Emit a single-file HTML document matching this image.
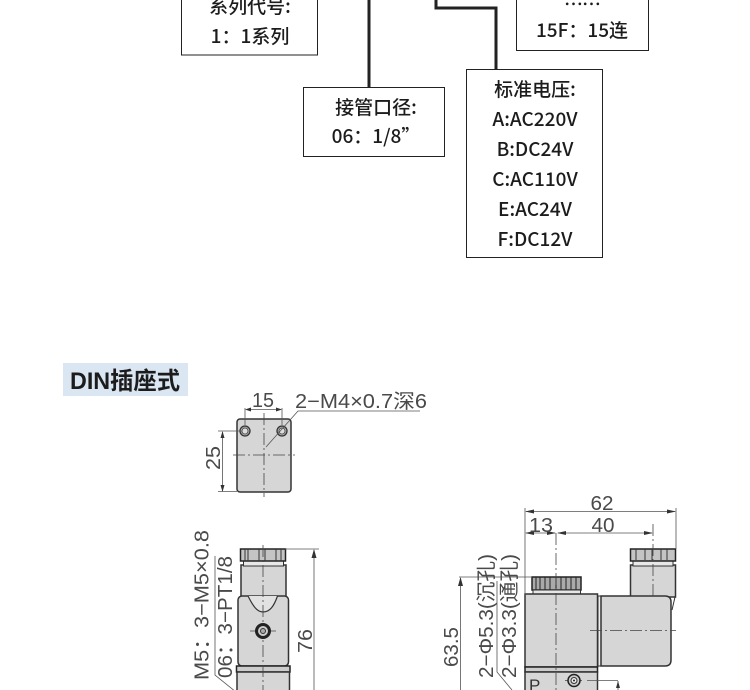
<!DOCTYPE html>
<html><head><meta charset="utf-8"><style>
html,body{margin:0;padding:0;background:#fff}
svg{display:block}
.t{font-family:"Noto Sans CJK SC","Liberation Sans",sans-serif;font-size:19px;font-weight:500;fill:#1c1c1c;text-anchor:middle}
.d{font-family:"Liberation Sans","Noto Sans CJK SC",sans-serif;font-size:20px;fill:#4a4a4a;text-anchor:middle}
.b{fill:none;stroke:#222;stroke-width:1}
.c{fill:none;stroke:#222;stroke-width:3}
.s{fill:#d6d6d6;stroke:#333;stroke-width:1.5}
.dl{stroke:#555;stroke-width:.8;fill:none}
.cl{stroke:#444;stroke-width:.8;stroke-dasharray:12 3 2 3;fill:none}
.a{fill:#333}
</style></head><body>
<svg width="750" height="690" viewBox="0 0 750 690" xmlns="http://www.w3.org/2000/svg">
<rect x="181.5" y="-10" width="136" height="65" class="b"/>
<rect x="303.5" y="87.5" width="141" height="69" class="b"/>
<rect x="466.5" y="69.5" width="136" height="188" class="b"/>
<rect x="516.5" y="-10" width="132" height="60.5" class="b"/>
<path d="M369 0V87" class="c"/>
<path d="M436 0V8H496V69" class="c"/>
<text class="t" x="250" y="13">系列代号:</text>
<text class="t" x="250" y="43">1：1系列</text>
<text class="t" x="582" y="11" style="letter-spacing:-1px">……</text>
<text class="t" x="582" y="37">15F：15连</text>
<text class="t" x="376" y="114">接管口径:</text>
<text class="t" x="376" y="143">06：1/8”</text>
<text class="t" x="535" y="96">标准电压:</text>
<text class="t" x="535" y="126">A:AC220V</text>
<text class="t" x="535" y="156">B:DC24V</text>
<text class="t" x="535" y="186">C:AC110V</text>
<text class="t" x="535" y="216">E:AC24V</text>
<text class="t" x="535" y="246">F:DC12V</text>

<rect x="63" y="363" width="125" height="33" fill="#dbe6f3"/>
<text x="70" y="389" style="font-family:'Liberation Sans','Noto Sans CJK SC',sans-serif;font-weight:700;font-size:24px;fill:#1c1c1c" textLength="110" lengthAdjust="spacingAndGlyphs">DIN插座式</text>

<!-- top view -->
<rect x="237" y="419" width="54" height="73" rx="3" class="s"/>
<path d="M264 413V497M233 455H295" class="cl"/>
<circle cx="245" cy="431" r="5" fill="#aaa" stroke="#333" stroke-width="1.3"/>
<circle cx="245" cy="431" r="3" fill="#ddd" stroke="#444" stroke-width=".8"/>
<circle cx="282" cy="431" r="5" fill="#aaa" stroke="#333" stroke-width="1.3"/>
<circle cx="282" cy="431" r="3" fill="#ddd" stroke="#444" stroke-width=".8"/>
<path d="M245 408V425M282 408V425M247 409.500H281" class="dl"/>
<path d="M242 431H218M237 491.500H218M222.500 432V491M266 447L298 411H420" class="dl"/>
<path class="a" d="M222.500 431l-2 7h4zM222.500 492l-2-7h4zM245 409.500l6-2v4zM282 409.500l-6-2v4z"/>
<text class="d" x="263" y="407" textLength="22" lengthAdjust="spacingAndGlyphs">15</text>
<text class="d" x="361" y="408" textLength="132" lengthAdjust="spacingAndGlyphs">2−M4×0.7深6</text>
<text class="d" transform="translate(220 458) rotate(-90)" textLength="24" lengthAdjust="spacingAndGlyphs">25</text>

<!-- front view -->
<rect x="241" y="565" width="45" height="32" class="s"/>
<rect x="243.500" y="560" width="40" height="6" fill="#e8e8e8" stroke="#333"/>
<rect x="240.500" y="549" width="45" height="12" fill="#c4c4c4" stroke="#222" stroke-width="1.5"/>
<path d="M245 549V561M248 549V561M259 549V561M265 549V561M276 549V561M281 549V561" stroke="#333" fill="none"/>
<rect x="238" y="596" width="50.500" height="70" rx="4" class="s"/>
<path d="M248 596C253 606 257 612 263 612C270 612 274 606 277.500 596" fill="#e2e2e2" stroke="#333" stroke-width="1.2"/>
<rect x="236.500" y="666" width="53.500" height="6" fill="#ccc" stroke="#222" stroke-width="1.5"/>
<rect x="237" y="672" width="52.500" height="20" class="s"/>
<path d="M263 545V690M250 631H276" class="cl"/>
<circle cx="263" cy="631" r="6.500" fill="#ccc" stroke="#222" stroke-width="3"/>
<circle cx="263" cy="631" r="2.500" fill="#aaa" stroke="#333"/>
<path d="M285 549H319M314 550V690M215 556V675L236 692" class="dl"/>
<path class="a" d="M314 549l-2.500 9h5z"/>
<text class="d" transform="translate(312 641) rotate(-90)" textLength="24" lengthAdjust="spacingAndGlyphs">76</text>
<text class="d" transform="translate(208.500 605) rotate(-90)" textLength="150" lengthAdjust="spacingAndGlyphs">M5：3−M5×0.8</text>
<text class="d" transform="translate(232 617) rotate(-90)" textLength="122" lengthAdjust="spacingAndGlyphs">06：3−PT1/8</text>

<!-- side view -->
<rect x="630.500" y="565" width="45" height="32" class="s"/>
<rect x="633" y="560" width="40" height="6" fill="#e8e8e8" stroke="#333"/>
<rect x="630.500" y="549" width="45" height="12" fill="#c4c4c4" stroke="#222" stroke-width="1.5"/>
<path d="M636 549V560M645 549V560M652 549V560M661 549V560M667 549V560" stroke="#333" fill="none"/>
<path d="M675 597L672 610" stroke="#333" fill="none"/>
<rect x="532" y="577" width="49" height="13" fill="#aaa" stroke="#222" stroke-width="1.5"/>
<path d="M536 577V590M540 577V590M545 577V590M550 577V590M556 577V590M561 577V590M566 577V590M571 577V590M576 577V590" stroke="#222" fill="none"/>
<rect x="533" y="590" width="47.500" height="5" fill="#e6e6e6" stroke="#333"/>
<rect x="525" y="594" width="72.500" height="73" class="s"/>
<path d="M598 596H601V666H598Z" fill="#eee" stroke="#333"/>
<path d="M601 596H665Q671 596 671 602V660Q671 666 665 666H601Z" class="s"/>
<rect x="525" y="667" width="72.500" height="5" fill="#ccc" stroke="#222" stroke-width="1.500"/>
<rect x="525" y="672" width="72.500" height="20" class="s"/>
<path d="M556 533V690M653 524V598M590 630.500H676" class="cl"/>
<path d="M565 680.500H585" class="cl"/>
<circle cx="574" cy="680.500" r="6" fill="#ccc" stroke="#222" stroke-width="1.500"/>
<circle cx="574" cy="680.500" r="3" fill="#eee" stroke="#333"/>
<circle cx="574" cy="680.500" r="1" fill="#222"/>
<path d="M525 508V595M676 508V549M526 511.500H675M526 533H555M558 533H652M459 577H532M460.500 578V690M497 581V672L512 690M587 680.500H618M618 681V690" class="dl"/>
<path class="a" d="M525 511.500l9-2v4zM676 511.500l-9-2v4zM525 533l9-2v4zM556 533l-9-2v4zM557 533l9-2v4zM653 533l-9-2v4zM460.500 577l-2.500 9h5zM618 681l-2 7h4z"/>
<text class="d" x="602" y="510" textLength="23" lengthAdjust="spacingAndGlyphs">62</text>
<text class="d" x="541" y="532" textLength="24" lengthAdjust="spacingAndGlyphs">13</text>
<text class="d" x="603" y="532" textLength="23" lengthAdjust="spacingAndGlyphs">40</text>
<text class="d" transform="translate(458 647) rotate(-90)" textLength="40" lengthAdjust="spacingAndGlyphs">63.5</text>
<text class="d" transform="translate(493 616) rotate(-90)" textLength="124" lengthAdjust="spacingAndGlyphs">2−Φ5.3(沉孔)</text>
<text class="d" transform="translate(516 616) rotate(-90)" textLength="124" lengthAdjust="spacingAndGlyphs">2−Φ3.3(通孔)</text>
<text x="529" y="691" style="font-family:'Liberation Sans',sans-serif;font-size:17px;fill:#333">P</text>
</svg>
</body></html>
